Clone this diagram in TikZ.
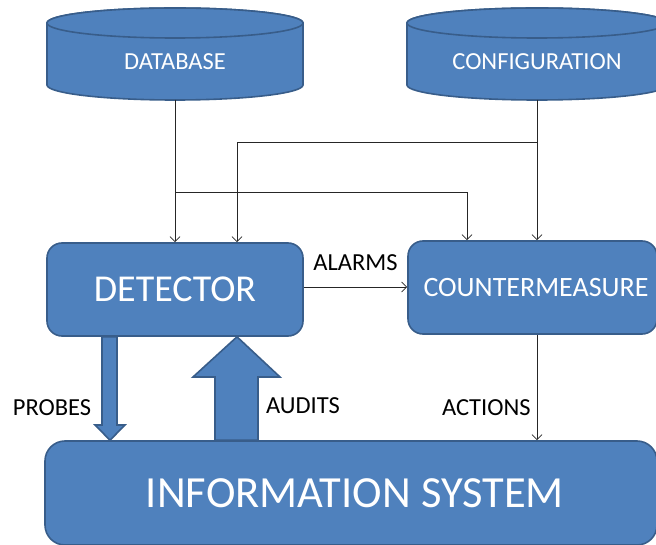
\documentclass[tikz,border=0pt]{standalone}
\usepackage{fontspec}
\setmainfont{Carlito}
\usetikzlibrary{arrows.meta,calc}

\definecolor{boxfill}{HTML}{4F81BD}
\definecolor{boxline}{HTML}{385D8A}
\definecolor{wire}{HTML}{262626}

\tikzset{
  box/.style={draw=boxline, line width=1.6pt, fill=boxfill, text=white,
              rounded corners=15pt, inner sep=0pt, align=center},
  store/.style={draw=boxline, line width=1.6pt, fill=boxfill},
  storetext/.style={text=white, inner sep=0pt, font=\fontsize{24.5}{27}\selectfont},
  flow/.style={draw=wire, line width=0.8pt,
               -{Straight Barb[length=5pt,width=10pt,line width=0.8pt]}},
  flowlabel/.style={text=black, inner sep=0pt, font=\fontsize{24.5}{27}\selectfont},
  fat/.style={draw=boxline, line width=1.6pt, fill=boxfill, line join=miter}
}

\begin{document}
\begin{tikzpicture}[x=1pt,y=1pt]
  \useasboundingbox (0,0) rectangle (656,544);
  \clip (0,0) rectangle (656,544);

  % data stores (cylinders)
  \path[store] (47,521) -- (47,459)
      arc[start angle=180,end angle=360,x radius=128,y radius=15]
      -- (303,521) arc[start angle=0,end angle=180,x radius=128,y radius=15] -- cycle;
  \path[store] (175,521) ellipse[x radius=128,y radius=15];
  \node[storetext] (db) at (175,482) {DATABASE};
  \coordinate (dbout) at (175,444);

  \path[store] (407,521) -- (407,459)
      arc[start angle=180,end angle=360,x radius=130,y radius=15]
      -- (667,521) arc[start angle=0,end angle=180,x radius=130,y radius=15] -- cycle;
  \path[store] (537,521) ellipse[x radius=130,y radius=15];
  \node[storetext] (cfg) at (537,482) {CONFIGURATION};
  \coordinate (cfgout) at (537,444);

  % processing blocks
  \node[box, minimum width=256pt, minimum height=93pt,
        font=\fontsize{38}{42}\selectfont] (det) at (175,254.5) {DETECTOR};
  \node[box, minimum width=249pt, minimum height=93pt,
        font=\fontsize{28}{32}\selectfont] (cm) at (532.5,256.5) {\hspace*{7pt}COUNTERMEASURE};
  \node[box, rounded corners=20pt, minimum width=612pt, minimum height=104pt,
        font=\fontsize{44.5}{48}\selectfont] (info) at (351,51) {\hspace*{8pt}INFORMATION SYSTEM};

  % data / configuration distribution
  \draw[flow] (dbout) -- (175,0 |- det.north);
  \draw[flow] (dbout) -- (175,352) -- (467,352) -- (467,0 |- cm.north);
  \draw[flow] (cfgout) -- (537,0 |- cm.north);
  \draw[flow] (cfgout) -- (537,402) -- (237,402) -- (237,0 |- det.north);

  % alarms and actions
  \draw[flow] (det.east |- 0,257) -- (cm.west |- 0,257)
    node[flowlabel, midway, above=16pt] (alarms) {ALARMS};
  \draw[flow] (537,0 |- cm.south) -- (537,0 |- info.north)
    node[flowlabel, pos=0.69, left=6pt] (actions) {ACTIONS};

  % probes (down) and audits (up)
  \path[fat] (102,0 |- det.south) -- (117,0 |- det.south) -- (117,119) -- (125,119)
             -- (110,0 |- info.north) -- (95,119) -- (102,119) -- cycle;
  \path[fat] (215,0 |- info.north) -- (215,167) -- (193,167) -- (237,0 |- det.south)
             -- (280,167) -- (258,167) -- (258,0 |- info.north) -- cycle;
  \node[flowlabel, anchor=center] (probes) at (52,136) {PROBES};
  \node[flowlabel, anchor=center] (audits) at (303,138) {AUDITS};
\end{tikzpicture}
\end{document}
